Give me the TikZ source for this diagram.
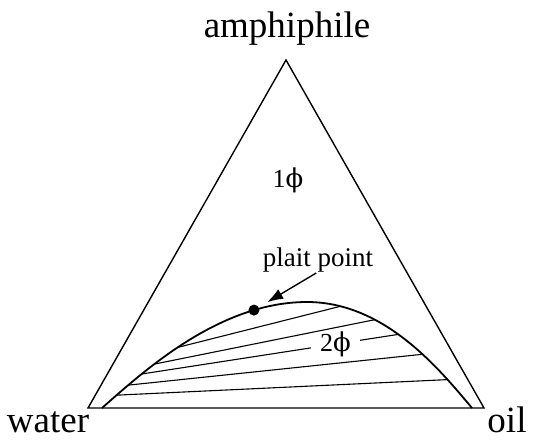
\documentclass[tikz,border=0pt]{standalone}
\usepackage{fontspec}
\setmainfont{Liberation Serif}
\newfontfamily\phifont{DejaVu Serif}
\newcommand{\phisym}{{\phifont ϕ}}
\usetikzlibrary{arrows.meta, positioning}

\begin{document}
\begin{tikzpicture}[
    x=1pt, y=-1pt,
    edge/.style={line width=1.4pt},
    binodal/.style={line width=1.8pt},
    tie/.style={line width=1.1pt},
    corner/.style={inner sep=0pt, font=\fontsize{37}{40}\selectfont},
    phase/.style={inner sep=0pt, font=\fontsize{26}{28}\selectfont},
    pointer/.style={-{Latex[length=16pt, width=11pt]}, line width=1.4pt},
    plaitdot/.style={circle, fill, inner sep=0pt, minimum size=11pt}
]
\useasboundingbox (0,0) rectangle (545,441);

% Corners
\coordinate (W) at (88,408);
\coordinate (A) at (286,60);
\coordinate (O) at (484,408);

\draw[edge] (W) -- (A) -- (O) -- cycle;

% Labels
\node[corner, anchor=base] (amph) at (287,38) {amphiphile};
\node[corner, anchor=base] (water) at (48,432) {water};
\node[corner, anchor=base] (oil) at (507,432) {oil};

\node[phase, anchor=base] (onephase) at (288,187) {1\phisym};
\node[phase, anchor=base, font=\fontsize{27}{29}\selectfont] (plait) at (318,266) {plait point};

% Binodal curve with tie-line ends
\coordinate (bl) at (102,408);
\coordinate (pk) at (307,302);
\coordinate (br) at (472,408);

\draw[binodal] (bl) .. controls (145,370) and (220,302) .. (pk)
    coordinate[pos=.105] (l1) coordinate[pos=.18] (l2) coordinate[pos=.26] (l3)
    coordinate[pos=.33] (l4) coordinate[pos=.45] (l5)
    node[plaitdot, pos=.79] (pp) {}
  .. controls (385,302) and (440,370) .. (br)
    coordinate[pos=.78] (r1) coordinate[pos=.6] (r2) coordinate[pos=.45] (r3)
    coordinate[pos=.32] (r4) coordinate[pos=.15] (r5);

% Tie lines
\draw[tie] (l3) -- node[phase, pos=.755, fill=white, inner xsep=9pt] (twophase) {2\phisym} (r3);
\foreach \i in {1,2,4,5}
    \draw[tie] (l\i) -- (r\i);

% Pointer
\draw[pointer, shorten <=2pt, shorten >=9pt] (plait.south) -- (pp);

\end{tikzpicture}
\end{document}
